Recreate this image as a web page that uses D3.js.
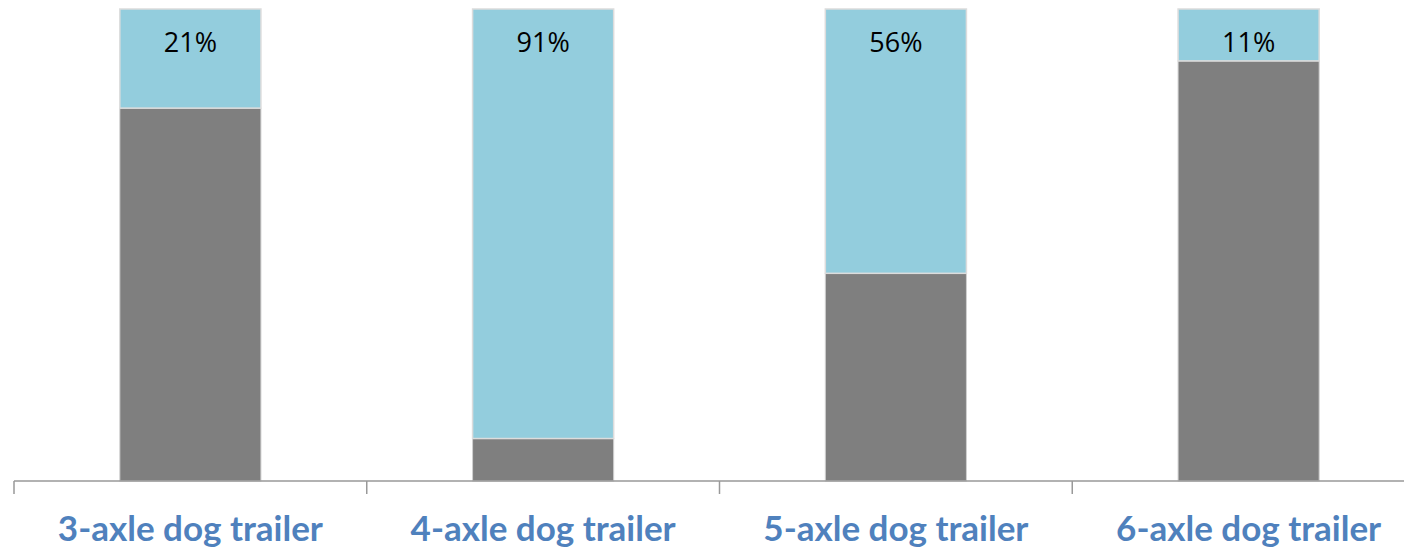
<!DOCTYPE html>
<html lang="en">
<head>
<meta charset="utf-8">
<title>Dog trailers</title>
<script src="https://d3js.org/d3.v7.min.js"></script>
<style>
  body { margin: 0; background: #fff; }
  svg { display: block; }
</style>
</head>
<body>
<script>
// data
const categories = ["3-axle dog trailer", "4-axle dog trailer", "5-axle dog trailer", "6-axle dog trailer"];
const greyShare = [79, 9, 44, 89];
const blueShare = [21, 91, 56, 11];

const width = 1404, height = 550;
const svg = d3.select("body").append("svg")
  .attr("width", width)
  .attr("height", height);

// plot area (right end runs past the window edge like the original)
const x = d3.scaleBand()
  .domain(categories)
  .range([14, 1425])
  .paddingInner(0.6)
  .paddingOuter(0.3);

const y = d3.scaleLinear()
  .domain([0, 100])
  .range([481, 9]);

const rows = categories.map((c, i) => ({ cat: c, grey: greyShare[i], blue: blueShare[i] }));

// grey bottom part
svg.append("g").selectAll("rect")
  .data(rows)
  .join("rect")
  .attr("x", d => x(d.cat))
  .attr("y", d => y(d.grey))
  .attr("width", x.bandwidth())
  .attr("height", d => y(0) - y(d.grey))
  .attr("fill", "#7f7f7f")
  .attr("stroke", "#d0d0d0")
  .attr("stroke-width", 1);

// blue top part
svg.append("g").selectAll("rect")
  .data(rows)
  .join("rect")
  .attr("x", d => x(d.cat))
  .attr("y", d => y(d.grey + d.blue))
  .attr("width", x.bandwidth())
  .attr("height", d => y(d.grey) - y(d.grey + d.blue))
  .attr("fill", "#93cddd")
  .attr("stroke", "#dcdcdc")
  .attr("stroke-width", 1.5);

// percent labels
svg.append("g").selectAll("text")
  .data(rows)
  .join("text")
  .attr("x", d => x(d.cat) + x.bandwidth() / 2)
  .attr("y", d => y(d.grey + d.blue) + 43)
  .attr("text-anchor", "middle")
  .attr("font-family", "'Open Sans', sans-serif")
  .attr("font-size", "27px")
  .attr("fill", "#000")
  .text(d => d.blue + "%");

// x axis with ticks between categories
const axis = svg.append("g").attr("transform", "translate(0,481)");
axis.append("line")
  .attr("x1", 14).attr("x2", 1425)
  .attr("stroke", "#999").attr("stroke-width", 1.5);
const edges = categories.map(c => x(c) - x.step() * x.paddingOuter());
axis.selectAll(".tick")
  .data(edges)
  .join("line")
  .attr("class", "tick")
  .attr("x1", d => d).attr("x2", d => d)
  .attr("y1", 0).attr("y2", 13)
  .attr("stroke", "#999").attr("stroke-width", 1.5);

axis.selectAll(".cat")
  .data(categories)
  .join("text")
  .attr("class", "cat")
  .attr("x", d => x(d) + x.bandwidth() / 2)
  .attr("y", 60)
  .attr("text-anchor", "middle")
  .attr("font-family", "Lato, sans-serif")
  .attr("font-weight", "bold")
  .attr("font-size", "35px")
  .attr("fill", "#4f81bd")
  .text(d => d);
</script>
</body>
</html>
